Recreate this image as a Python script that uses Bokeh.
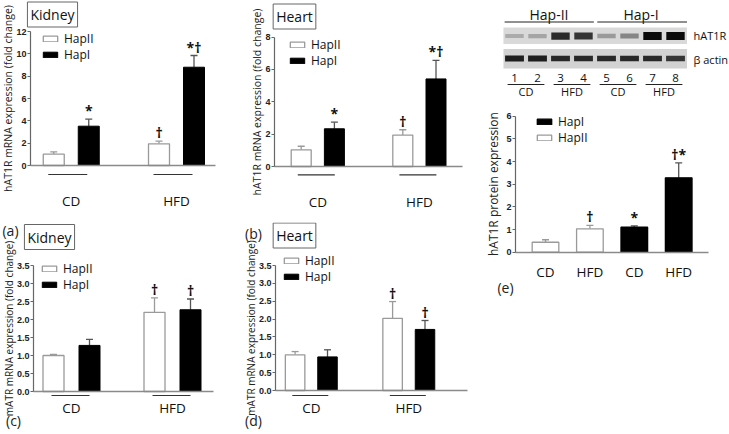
import math
from bokeh.plotting import figure
from bokeh.layouts import row, column
from bokeh.models import (Range1d, FixedTicker, Legend, LegendItem, Label, Whisker, TeeHead,
                          ColumnDataSource, LinearAxis, PrintfTickFormatter)
from bokeh.core.properties import value
from bokeh.embed import file_html
from bokeh.resources import INLINE

# ---------------- data ----------------
groups = ["CD", "HFD"]

a_hapII = [1.01, 1.94]
a_hapII_err = [0.21, 0.24]
a_hapI = [3.52, 8.80]
a_hapI_err = [0.63, 1.05]
a_sig_II = ["", "†"]
a_sig_I = ["*", "*†"]

b_hapII = [1.03, 1.94]
b_hapII_err = [0.22, 0.33]
b_hapI = [2.33, 5.41]
b_hapI_err = [0.41, 1.14]
b_sig_II = ["", "†"]
b_sig_I = ["*", "*†"]

c_hapII = [1.00, 2.20]
c_hapII_err = [0.03, 0.40]
c_hapI = [1.28, 2.27]
c_hapI_err = [0.17, 0.30]
c_sig_II = ["", "†"]
c_sig_I = ["", "†"]

d_hapII = [1.00, 2.02]
d_hapII_err = [0.09, 0.47]
d_hapI = [0.94, 1.71]
d_hapI_err = [0.20, 0.25]
d_sig_II = ["", "†"]
d_sig_I = ["", "†"]

e_labels = ["CD", "HFD", "CD", "HFD"]
e_hap = ["HapII", "HapII", "HapI", "HapI"]
e_vals = [0.44, 1.03, 1.10, 3.28]
e_err = [0.11, 0.15, 0.06, 0.66]
e_sig = ["", "†", "*", "†*"]

gel_lanes = [1, 2, 3, 4, 5, 6, 7, 8]
gel_lane_labels = ["1", "2", "3", "4", "5", "6", "7", "8"]
gel_diet = ["CD", "HFD", "CD", "HFD"]
gel_hap = ["Hap-II", "Hap-I"]
hat1r_band = [0.22, 0.25, 0.85, 0.80, 0.30, 0.40, 1.00, 1.00]
actin_band = [0.90, 0.90, 0.85, 0.85, 0.85, 0.85, 0.85, 0.78]

# ---------------- style ----------------
FONT = "Open Sans"
TICKFONT = "Liberation Sans"
GRAY = "#8a8a8a"


def base_fig(fig, xr, yr):
    x0, y0, x1, y1 = fig
    p = figure(width=x1 - x0, height=y1 - y0, x_range=Range1d(*xr), y_range=Range1d(*yr),
               output_backend="svg", toolbar_location=None,
               x_axis_location=None, y_axis_location=None,
               min_border_left=0, min_border_right=0, min_border_top=0, min_border_bottom=0)
    p.outline_line_color = None
    p.xgrid.visible = False
    p.ygrid.visible = False
    p.border_fill_color = "white"
    return p


def add_axes(p, yloc, ticks, ymax, fmt, ylabel, ylab_size, ylab_standoff,
             xloc, xticks, xlabels, x_standoff, base_bounds):
    ya = LinearAxis(fixed_location=yloc, ticker=FixedTicker(ticks=ticks), bounds=(0, ymax),
                    formatter=PrintfTickFormatter(format=fmt))
    ya.axis_line_color = "#666"
    ya.axis_line_width = 1.2
    ya.major_tick_line_color = "#666"
    ya.major_tick_in = 0
    ya.major_tick_out = 3
    ya.minor_tick_line_color = None
    ya.major_label_text_font = TICKFONT
    ya.major_label_text_font_style = "bold"
    ya.major_label_text_font_size = "9px"
    ya.major_label_text_color = "#222"
    ya.major_label_standoff = 1
    if ylabel:
        ya.axis_label = ylabel
        ya.axis_label_text_font = FONT
        ya.axis_label_text_font_size = ylab_size
        ya.axis_label_text_font_style = "normal"
        ya.axis_label_text_color = "#222"
        ya.axis_label_standoff = ylab_standoff
    p.add_layout(ya, "left")
    # baseline at zero (axis line only)
    base = LinearAxis(fixed_location=0, ticker=FixedTicker(ticks=[]), bounds=base_bounds)
    base.axis_line_color = GRAY
    base.axis_line_width = 1.3
    base.major_tick_line_color = None
    base.minor_tick_line_color = None
    base.major_label_text_font_size = "0px"
    p.add_layout(base, "below")
    # category labels
    xa = LinearAxis(fixed_location=xloc, ticker=FixedTicker(ticks=xticks))
    xa.major_label_overrides = {t: l for t, l in zip(xticks, xlabels)}
    xa.axis_line_color = None
    xa.major_tick_line_color = None
    xa.minor_tick_line_color = None
    xa.major_label_text_font = FONT
    xa.major_label_text_font_size = "13.5px"
    xa.major_label_text_color = "#111"
    xa.major_label_standoff = x_standoff
    p.add_layout(xa, "below")


def add_legends(p, items, left_px, centers_px, fig):
    x0, y0, x1, y1 = fig
    for (lab, r), cy in zip(items, centers_px):
        h = 16
        leg = Legend(items=[LegendItem(label=lab, renderers=[r])],
                     location=(left_px - x0, y1 - (cy + h / 2)), padding=0, margin=0, spacing=0,
                     glyph_width=18, glyph_height=7, label_height=h, label_standoff=5,
                     label_text_font=FONT, label_text_font_size="12px", label_text_color="#111",
                     border_line_color=None, background_fill_alpha=0)
        p.add_layout(leg)


def add_sig(p, xs, vals, errs, sig):
    keep = [i for i, s in enumerate(sig) if s]
    if keep:
        p.text(x=[xs[i] for i in keep], y=[vals[i] + errs[i] for i in keep], text=[sig[i] for i in keep],
               text_align="center", text_baseline="bottom", text_font=value(FONT),
               text_font_size="14px", text_font_style="bold", text_color="#111111", y_offset=1)


def add_err(p, xs, vals, errs, col):
    src = ColumnDataSource(dict(x=xs, lo=vals, up=[v + e for v, e in zip(vals, errs)]))
    p.add_layout(Whisker(source=src, base="x", lower="lo", upper="up", dimension="height",
                         line_color=col, line_width=1.3, lower_head=None,
                         upper_head=TeeHead(size=7, line_color=col, line_width=1.3)))


def mrna_panel(fig, axis_px, base_end_px, base_px, top_px, ymax, step, fmt, c0, c1, half_px,
               barw_px, ul_py, ul_off, xlab_py, leg_left, leg_centers, organ, organ_c, letters,
               ylabel, ylab_size, II, IIe, I, Ie, sII, sI):
    x0, y0, x1, y1 = fig
    ppu_y = (base_px - top_px) / ymax
    ppu_x = c1 - c0
    dx = lambda px: (px - c0) / ppu_x
    dy = lambda py: (base_px - py) / ppu_y
    p = base_fig(fig, (dx(x0), dx(x1)), (dy(y1), dy(y0)))
    nt = int(round(ymax / step))
    g = list(range(len(groups)))
    add_axes(p, dx(axis_px), [i * step for i in range(nt + 1)], ymax, fmt, ylabel, ylab_size, -2,
             dy(xlab_py), g, groups, 0, (dx(axis_px), dx(base_end_px)))
    half = half_px / ppu_x
    bw = barw_px / ppu_x
    xII = [k - half for k in g]
    xI = [k + half for k in g]
    rII = p.vbar(x=xII, top=II, width=bw, bottom=0, fill_color="white", line_color="#9a9a9a",
                 line_width=1.3)
    rI = p.vbar(x=xI, top=I, width=bw, bottom=0, fill_color="black", line_color="black")
    add_err(p, xII, II, IIe, "#9a9a9a")
    add_err(p, xI, I, Ie, "#555555")
    add_sig(p, xII, II, IIe, sII)
    add_sig(p, xI, I, Ie, sI)
    ul_y = dy(ul_py)
    p.segment(x0=[k + ul_off[0] / ppu_x for k in g], y0=[ul_y] * len(g),
              x1=[k + ul_off[1] / ppu_x for k in g], y1=[ul_y] * len(g),
              line_color="#333", line_width=1.2)
    add_legends(p, [("HapII", rII), ("HapI", rI)], leg_left, leg_centers, fig)
    p.add_layout(Label(x=dx(organ_c[0]), y=dy(organ_c[1]), text=organ, text_align="center",
                       text_baseline="middle", text_font=FONT, text_font_size="14px",
                       text_color="#111", border_line_color="#666", background_fill_color="white",
                       padding=3))
    if letters:
        p.text(x=[dx(l[1]) for l in letters], y=[dy(l[2]) for l in letters],
               text=[l[0] for l in letters], text_align="center", text_baseline="middle",
               text_font=value(FONT), text_font_size="14px", text_color="#222222")
    return p


# ---------------- panels (positions in page pixels) ----------------
pa = mrna_panel(fig=(0, 0, 243, 222), axis_px=30, base_end_px=215, base_px=165, top_px=31, ymax=12,
                step=2, fmt="%d", c0=70.75, c1=176, half_px=17.5, barw_px=21, ul_py=174,
                ul_off=(-23, 16), xlab_py=185, leg_left=41, leg_centers=(38.5, 54.5),
                organ="Kidney", organ_c=(52, 14), letters=[],
                ylabel="hAT1R mRNA expression (fold change)", ylab_size="10.5px",
                II=a_hapII, IIe=a_hapII_err, I=a_hapI, Ie=a_hapI_err, sII=a_sig_II, sI=a_sig_I)

pb = mrna_panel(fig=(243, 0, 483, 222), axis_px=274, base_end_px=462, base_px=166, top_px=36.5,
                ymax=8, step=2, fmt="%d", c0=317.3, c1=418.9, half_px=16.6, barw_px=20,
                ul_py=174.3, ul_off=(-20, 17), xlab_py=186, leg_left=288, leg_centers=(45, 61),
                organ="Heart", organ_c=(294, 16), letters=[],
                ylabel="hAT1R mRNA expression (fold change)", ylab_size="10.5px",
                II=b_hapII, IIe=b_hapII_err, I=b_hapI, Ie=b_hapI_err, sII=b_sig_II, sI=b_sig_I)

pc = mrna_panel(fig=(0, 222, 243, 434), axis_px=33, base_end_px=213, base_px=391, top_px=265,
                ymax=3.5, step=0.5, fmt="%.1f", c0=71, c1=172, half_px=18, barw_px=21, ul_py=395,
                ul_off=(-20, 18), xlab_py=392, leg_left=40, leg_centers=(269, 285),
                organ="Kidney", organ_c=(49, 236.5), letters=[("(a)", 10, 230), ("(c)", 13, 420)],
                ylabel="mATR mRNA expression (fold change)", ylab_size="10px",
                II=c_hapII, IIe=c_hapII_err, I=c_hapI, Ie=c_hapI_err, sII=c_sig_II, sI=c_sig_I)

pd_ = mrna_panel(fig=(243, 222, 483, 434), axis_px=275, base_end_px=467, base_px=390, top_px=265,
                 ymax=3.5, step=0.5, fmt="%.1f", c0=310.8, c1=408.3, half_px=16.2, barw_px=19.5,
                 ul_py=395, ul_off=(-19, 17), xlab_py=392, leg_left=282, leg_centers=(261, 277),
                 organ="Heart", organ_c=(294, 235), letters=[("(b)", 253, 233), ("(d)", 253, 420)],
                 ylabel="mATR mRNA expression (fold change)", ylab_size="10px",
                 II=d_hapII, IIe=d_hapII_err, I=d_hapI, Ie=d_hapI_err, sII=d_sig_II, sI=d_sig_I)

# ---------------- panel e: protein bar chart ----------------
E_FIG = (483, 100, 729, 434)
e_axis_px, e_end_px = 515, 708
e_base, e_top, e_max = 251.7, 115.7, 6
e_c0, e_step = 545, 44.4
ppu_e = (e_base - e_top) / e_max
edx = lambda px: (px - e_c0) / e_step
edy = lambda py: (e_base - py) / ppu_e
pe = base_fig(E_FIG, (edx(E_FIG[0]), edx(E_FIG[2])), (edy(E_FIG[3]), edy(E_FIG[1])))
ex = list(range(len(e_vals)))
add_axes(pe, edx(e_axis_px), list(range(e_max + 1)), e_max, "%d", None, None, 0,
         edy(256), ex, e_labels, 0, (edx(e_axis_px), edx(e_end_px)))
renders = {}
for hap, fill, line, ecol in (("HapI", "black", "black", "#555555"),
                              ("HapII", "white", "#9a9a9a", "#9a9a9a")):
    idx = [i for i, h in enumerate(e_hap) if h == hap]
    xs = [ex[i] for i in idx]
    vs = [e_vals[i] for i in idx]
    es = [e_err[i] for i in idx]
    renders[hap] = pe.vbar(x=xs, top=vs, width=0.6, bottom=0, fill_color=fill, line_color=line,
                           line_width=1.3)
    add_err(pe, xs, vs, es, ecol)
add_sig(pe, ex, e_vals, e_err, e_sig)
add_legends(pe, [("HapI", renders["HapI"]), ("HapII", renders["HapII"])], 535, (122, 138), E_FIG)
pe.text(x=[edx(493)], y=[edy(182)], text=["hAT1R  protein expression"], angle=math.pi / 2,
        text_align="center", text_baseline="middle", text_font=value(FONT), text_font_size="12px",
        text_color="#222222")
pe.text(x=[edx(505)], y=[edy(287)], text=["(e)"], text_align="center", text_baseline="middle",
        text_font=value(FONT), text_font_size="14px", text_color="#222222")

# ---------------- western blot ----------------
G_FIG = (483, 0, 729, 100)
lane0_px, lane_step = 514, 23
gdx = lambda px: (px - lane0_px) / lane_step + 1
pg = base_fig(G_FIG, (gdx(G_FIG[0]), gdx(G_FIG[2])), (G_FIG[3], G_FIG[1]))
lo_l, hi_l = min(gel_lanes) - 0.48, max(gel_lanes) + 0.5
pg.quad(left=[lo_l, lo_l], right=[hi_l, hi_l], top=[27, 48.5], bottom=[43.5, 68],
        fill_color=["#d9d9d9", "#d2d2d2"], line_color=None)
pg.rect(x=gel_lanes, y=[35.5] * 8, width=0.8, height=[3 + 5 * v for v in hat1r_band],
        fill_color="#0a0a0a", fill_alpha=hat1r_band, line_color=None)
pg.rect(x=gel_lanes, y=[58] * 8, width=0.82, height=[4 + 2 * v for v in actin_band],
        fill_color="#0a0a0a", fill_alpha=actin_band, line_color=None)
half_n = len(gel_lanes) // 2
hap_centers = [(gel_lanes[0] + gel_lanes[half_n - 1]) / 2, (gel_lanes[half_n] + gel_lanes[-1]) / 2]
pg.text(x=hap_centers, y=[14, 14], text=gel_hap, text_align="center", text_baseline="middle",
        text_font=value(FONT), text_font_size="14px", text_color="#111111")
pg.segment(x0=[lo_l + 0.05, gel_lanes[half_n] - 0.4], y0=[21.5, 21.5],
           x1=[gel_lanes[half_n - 1] + 0.45, hi_l], y1=[21.5, 21.5], line_color="#222", line_width=1.2)
pg.text(x=[gdx(693), gdx(693)], y=[35, 59], text=["hAT1R", "β actin"], text_align="left",
        text_baseline="middle", text_font=value(FONT), text_font_size="11px", text_color="#111111")
pg.text(x=gel_lanes, y=[77.5] * 8, text=gel_lane_labels, text_align="center", text_baseline="middle",
        text_font=value(FONT), text_font_size="11.5px", text_color="#111111")
pairs = [(gel_lanes[i], gel_lanes[i + 1]) for i in range(0, len(gel_lanes), 2)]
pg.segment(x0=[a - 0.3 for a, b in pairs], y0=[84] * 4, x1=[b + 0.3 for a, b in pairs], y1=[84] * 4,
           line_color="#222", line_width=1)
pg.text(x=[(a + b) / 2 for a, b in pairs], y=[91] * 4, text=gel_diet, text_align="center",
        text_baseline="middle", text_font=value(FONT), text_font_size="11px", text_color="#111111")

layout = row(column(row(pa, pb), row(pc, pd_)), column(pg, pe))
open("out.html", "w").write(file_html(layout, INLINE))
